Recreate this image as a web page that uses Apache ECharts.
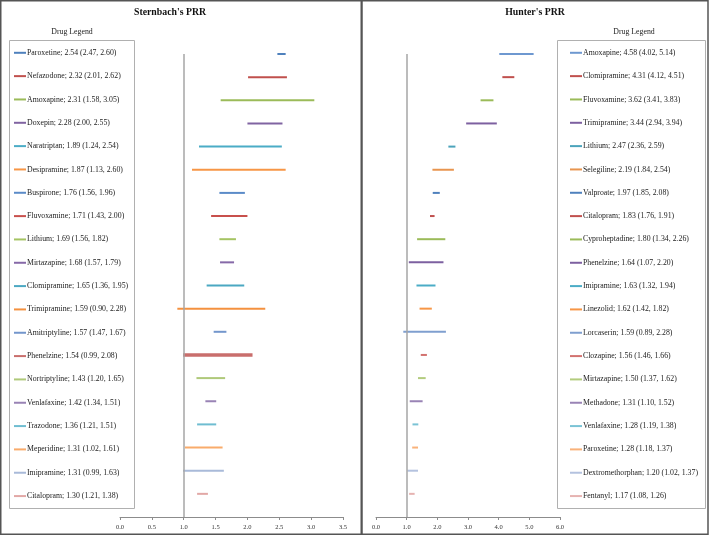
<!DOCTYPE html>
<html>
<head>
<meta charset="utf-8">
<script src="https://cdn.jsdelivr.net/npm/echarts@6/dist/echarts.min.js"></script>
<style>html,body{margin:0;padding:0;background:#fff}#c{width:709px;height:536px}</style>
</head>
<body>
<div id="c"></div>
<script>
// ---- Sternbach's PRR ----
const sDrugs = ["Paroxetine","Nefazodone","Amoxapine","Doxepin","Naratriptan","Desipramine","Buspirone","Fluvoxamine","Lithium","Mirtazapine","Clomipramine","Trimipramine","Amitriptyline","Phenelzine","Nortriptyline","Venlafaxine","Trazodone","Meperidine","Imipramine","Citalopram"];
const sPRR = [2.54,2.32,2.31,2.28,1.89,1.87,1.76,1.71,1.69,1.68,1.65,1.59,1.57,1.54,1.43,1.42,1.36,1.31,1.31,1.30];
const sLow = [2.47,2.01,1.58,2.00,1.24,1.13,1.56,1.43,1.56,1.57,1.36,0.90,1.47,0.99,1.20,1.34,1.21,1.02,0.99,1.21];
const sHigh = [2.60,2.62,3.05,2.55,2.54,2.60,1.96,2.00,1.82,1.79,1.95,2.28,1.67,2.08,1.65,1.51,1.51,1.61,1.63,1.38];
const sColors = ["#4F81BD","#C0504D","#9BBB59","#8064A2","#4BACC6","#F79646","#5B8BC8","#C8504C","#A5C463","#8669A8","#4BA8C2","#F4913F","#7396CC","#C96E6C","#AFC97A","#9983B5","#6FBDD1","#F9AB6B","#A9BAD9","#E2A8A6"];
const sTicks = [0,0.5,1,1.5,2,2.5,3,3.5];

// ---- Hunter's PRR ----
const hDrugs = ["Amoxapine","Clomipramine","Fluvoxamine","Trimipramine","Lithium","Selegiline","Valproate","Citalopram","Cyproheptadine","Phenelzine","Imipramine","Linezolid","Lorcaserin","Clozapine","Mirtazapine","Methadone","Venlafaxine","Paroxetine","Dextromethorphan","Fentanyl"];
const hPRR = [4.58,4.31,3.62,3.44,2.47,2.19,1.97,1.83,1.80,1.64,1.63,1.62,1.59,1.56,1.50,1.31,1.28,1.28,1.20,1.17];
const hLow = [4.02,4.12,3.41,2.94,2.36,1.84,1.85,1.76,1.34,1.07,1.32,1.42,0.89,1.46,1.37,1.10,1.19,1.18,1.02,1.08];
const hHigh = [5.14,4.51,3.83,3.94,2.59,2.54,2.08,1.91,2.26,2.20,1.94,1.82,2.28,1.66,1.62,1.52,1.38,1.37,1.37,1.26];
const hColors = ["#6E98D0","#C0504D","#9BBB59","#7D60A0","#4BA3BB","#E8954F","#4F81BD","#C0504D","#9BBB59","#7D60A0","#4BACC6","#F79646","#7F9FCF","#D2726F","#B3CC7E","#9983B5","#7BC3D5","#F9B27A","#B4C2DF","#E6B3B1"];
const hTicks = [0,1,2,3,4,5,6];

const FONT = "Liberation Serif";
function label(d, p, lo, hi){ return d + "; " + p.toFixed(2) + " (" + lo.toFixed(2) + ", " + hi.toFixed(2) + ")"; }

function renderBar(params, api){
  const a = api.coord([api.value(1), api.value(0)]);
  const b = api.coord([api.value(2), api.value(0)]);
  return {type:'line', shape:{x1:a[0],y1:a[1],x2:b[0],y2:b[1]},
    style:{stroke: api.visual('color'), lineWidth: params.seriesName.indexOf('Phenelzine; 1.54')===0 ? 3.5 : 2}};
}

function buildSeries(drugs, prr, lo, hi, colors, gi){
  const out = [];
  drugs.forEach((d,i)=>{
    out.push({type:'custom', name: label(d,prr[i],lo[i],hi[i]), xAxisIndex:gi, yAxisIndex:gi,
      renderItem: renderBar, itemStyle:{color: colors[i]}, encode:{x:[1,2], y:0},
      data:[[i+1, lo[i], hi[i]]], silent:true});
  });
  out.push({type:'line', xAxisIndex:gi, yAxisIndex:gi, data:[], silent:true,
    markLine:{silent:true, symbol:'none', label:{show:false}, animation:false,
      lineStyle:{color:'#a6a6a6', width:1.5, type:'solid'}, data:[{xAxis:1}]}});
  return out;
}

const sNames = sDrugs.map((d,i)=>label(d,sPRR[i],sLow[i],sHigh[i]));
const hNames = hDrugs.map((d,i)=>label(d,hPRR[i],hLow[i],hHigh[i]));

function xAxis(gi, max, interval){
  return {type:'value', gridIndex:gi, min:0, max:max, interval:interval,
    axisLine:{show:true, lineStyle:{color:'#8c8c8c', width:1}},
    axisTick:{show:true, length:3, lineStyle:{color:'#8c8c8c'}},
    splitLine:{show:false},
    axisLabel:{fontFamily:FONT, fontSize:6.5, color:'#333', margin:6.5, formatter:v=>v.toFixed(1)}};
}
function yAxis(gi){
  return {type:'value', gridIndex:gi, min:1, max:21, inverse:true, show:false, splitLine:{show:false}};
}
function legend(names, left, top){
  return {data:names, orient:'vertical', left:left, top:top, padding:0, itemGap:11.33,
    itemWidth:12, itemHeight:2, icon:'rect', selectedMode:false,
    textStyle:{fontFamily:FONT, fontSize:7.8, color:'#222', lineHeight:12, padding:[0,0,0,-4]}};
}

const chart = echarts.init(document.getElementById('c'), null, {renderer:'canvas'});
chart.setOption({
  animation:false,
  backgroundColor:'#fff',
  title:[
    {text:"Sternbach's PRR", left:170, top:7.5, textAlign:'center', padding:0,
      textStyle:{fontFamily:FONT, fontSize:9.8, fontWeight:'bold', color:'#111'}},
    {text:"Hunter's PRR", left:535, top:7.5, textAlign:'center', padding:0,
      textStyle:{fontFamily:FONT, fontSize:9.8, fontWeight:'bold', color:'#111'}},
    {text:"Drug Legend", left:72, top:27.5, textAlign:'center', padding:0,
      textStyle:{fontFamily:FONT, fontSize:7.8, fontWeight:'normal', color:'#222'}},
    {text:"Drug Legend", left:634, top:27.5, textAlign:'center', padding:0,
      textStyle:{fontFamily:FONT, fontSize:7.8, fontWeight:'normal', color:'#222'}}
  ],
  grid:[
    {left:120, right:366, top:54, bottom:19, containLabel:false},
    {left:376, right:149, top:54, bottom:19, containLabel:false}
  ],
  xAxis:[xAxis(0,3.5,0.5), xAxis(1,6,1)],
  yAxis:[yAxis(0), yAxis(1)],
  legend:[legend(sNames,14,46.8), legend(hNames,570,46.8)],
  graphic:[
    {type:'rect', shape:{x:0.75,y:0.75,width:360.5,height:533.5}, style:{fill:null, stroke:'#555', lineWidth:1.5}, silent:true},
    {type:'rect', shape:{x:362,y:0.75,width:346,height:533.5}, style:{fill:null, stroke:'#555', lineWidth:1.5}, silent:true},
    {type:'rect', shape:{x:9.5,y:40.5,width:125,height:468}, style:{fill:null, stroke:'#b0b0b0', lineWidth:1}, silent:true},
    {type:'rect', shape:{x:557.5,y:40.5,width:148,height:468}, style:{fill:null, stroke:'#b0b0b0', lineWidth:1}, silent:true}
  ],
  series:[].concat(buildSeries(sDrugs,sPRR,sLow,sHigh,sColors,0), buildSeries(hDrugs,hPRR,hLow,hHigh,hColors,1))
});
</script>
</body>
</html>
